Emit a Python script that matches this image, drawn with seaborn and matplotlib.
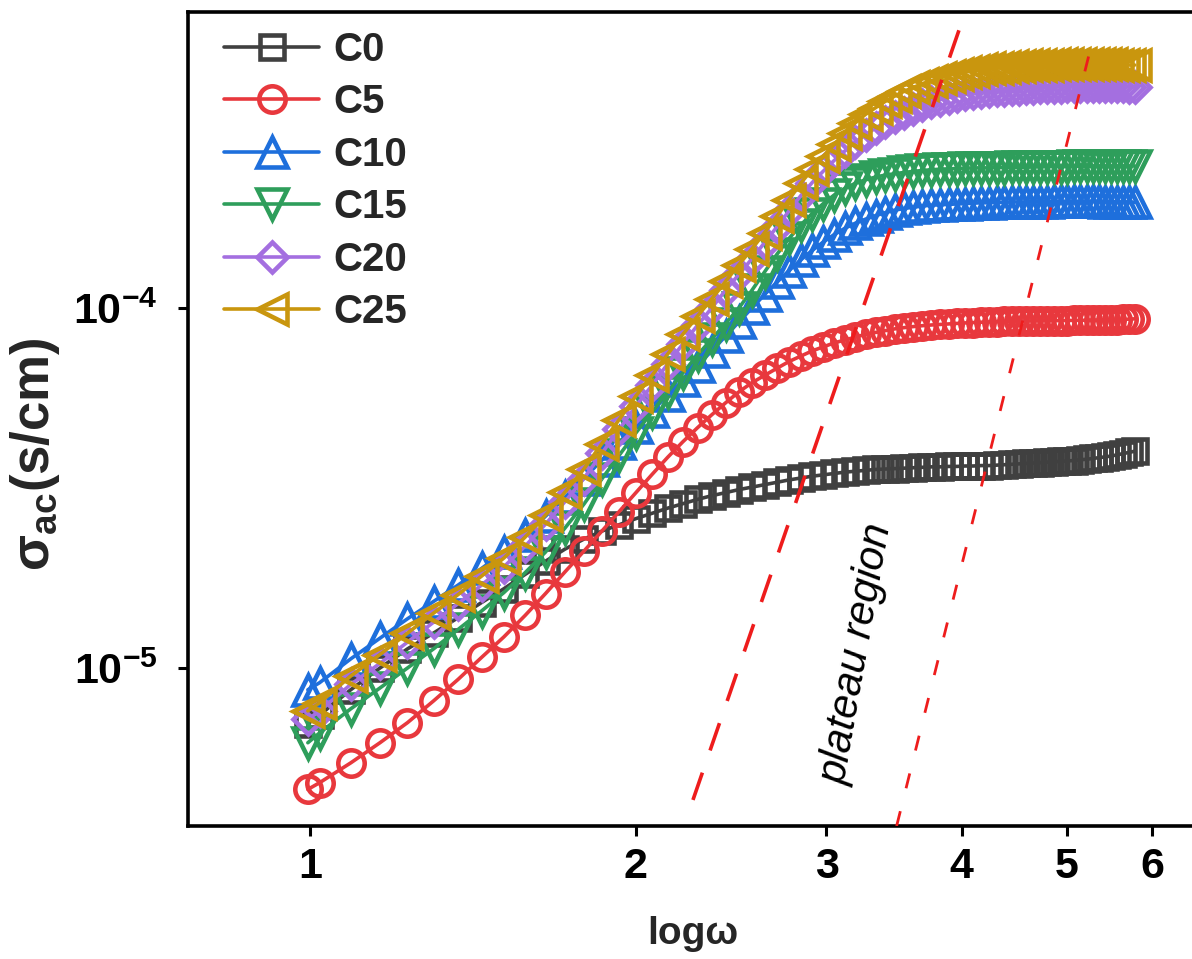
import numpy as np
import matplotlib
matplotlib.use("Agg")
import matplotlib.pyplot as plt
import seaborn as sns
from matplotlib.ticker import FixedLocator, FixedFormatter, NullLocator

# ---------------- data (sigma values in units of 1e-5 S/cm) ----------------
log_omega = [0.995, 1.02, 1.09, 1.16, 1.23, 1.30, 1.37, 1.44, 1.51, 1.58, 1.65, 1.72,
             1.79, 1.86, 1.93, 2.00, 2.07, 2.14, 2.21, 2.28, 2.35, 2.42, 2.49, 2.56,
             2.63, 2.70, 2.77, 2.84, 2.91, 2.98, 3.05, 3.12, 3.19, 3.26, 3.33, 3.40,
             3.47, 3.54, 3.61, 3.68, 3.75, 3.82, 3.89, 3.96, 4.03, 4.10, 4.17, 4.24,
             4.31, 4.38, 4.45, 4.52, 4.59, 4.66, 4.73, 4.80, 4.87, 4.94, 5.01, 5.08,
             5.15, 5.22, 5.29, 5.36, 5.43, 5.50, 5.57, 5.64, 5.71, 5.78]

C0 = [0.70, 0.74, 0.87, 1.00, 1.13, 1.25, 1.38, 1.52, 1.66, 1.82, 1.98, 2.14,
      2.28, 2.40, 2.50, 2.60, 2.69, 2.78, 2.86, 2.94, 3.01, 3.07, 3.13, 3.18,
      3.23, 3.28, 3.33, 3.37, 3.41, 3.44, 3.47, 3.50, 3.52, 3.54, 3.56, 3.57,
      3.58, 3.59, 3.60, 3.61, 3.62, 3.62, 3.63, 3.63, 3.64, 3.64, 3.65, 3.65,
      3.66, 3.67, 3.68, 3.69, 3.70, 3.71, 3.72, 3.73, 3.74, 3.75, 3.76, 3.77,
      3.79, 3.80, 3.82, 3.84, 3.86, 3.88, 3.91, 3.94, 3.97, 4.00]

C5 = [0.46, 0.48, 0.545, 0.62, 0.705, 0.81, 0.93, 1.07, 1.22, 1.40, 1.61, 1.85,
      2.11, 2.40, 2.72, 3.07, 3.45, 3.85, 4.25, 4.65, 5.05, 5.45, 5.85, 6.20,
      6.50, 6.80, 7.10, 7.35, 7.60, 7.80, 8.00, 8.15, 8.30, 8.45, 8.55, 8.65,
      8.75, 8.82, 8.88, 8.93, 8.97, 9.00, 9.03, 9.06, 9.09, 9.11, 9.13, 9.15,
      9.17, 9.18, 9.19, 9.20, 9.20, 9.21, 9.21, 9.22, 9.22, 9.23, 9.23, 9.24,
      9.24, 9.25, 9.25, 9.26, 9.27, 9.28, 9.29, 9.30, 9.31, 9.33]

C10 = [0.87, 0.91, 1.06, 1.21, 1.37, 1.53, 1.70, 1.89, 2.10, 2.34, 2.64, 2.98,
       3.36, 3.78, 4.22, 4.68, 5.18, 5.72, 6.30, 6.92, 7.60, 8.35, 9.15, 10.0,
       10.9, 11.8, 12.7, 13.6, 14.45, 15.25, 16.0, 16.65, 17.2, 17.65, 18.05, 18.4,
       18.7, 18.9, 19.05, 19.2, 19.3, 19.35, 19.4, 19.45, 19.5, 19.55, 19.6, 19.6,
       19.65, 19.65, 19.7, 19.7, 19.7, 19.75, 19.75, 19.75, 19.8, 19.8, 19.8, 19.8,
       19.8, 19.8, 19.8, 19.8, 19.75, 19.75, 19.7, 19.7, 19.7, 19.65]

C15 = [0.62, 0.66, 0.77, 0.88, 1.00, 1.13, 1.28, 1.44, 1.62, 1.84, 2.10, 2.45,
       2.85, 3.35, 3.90, 4.50, 5.15, 5.85, 6.60, 7.40, 8.20, 9.05, 10.0, 11.2,
       12.6, 14.1, 15.6, 17.0, 18.3, 19.5, 20.6, 21.5, 22.2, 22.7, 23.1, 23.4,
       23.6, 23.8, 23.95, 24.1, 24.2, 24.3, 24.35, 24.4, 24.45, 24.5, 24.5, 24.5,
       24.55, 24.55, 24.6, 24.6, 24.6, 24.65, 24.65, 24.7, 24.7, 24.7, 24.7, 24.75,
       24.75, 24.75, 24.8, 24.8, 24.8, 24.8, 24.8, 24.8, 24.8, 24.8]

C20 = [0.72, 0.76, 0.90, 1.03, 1.18, 1.34, 1.51, 1.70, 1.91, 2.18, 2.51, 2.90,
       3.36, 3.95, 4.60, 5.35, 6.10, 7.00, 7.95, 8.95, 10.0, 11.2, 12.4, 13.7,
       15.2, 16.8, 18.6, 20.5, 22.3, 24.0, 25.7, 27.3, 28.9, 30.3, 31.6, 32.8,
       33.9, 34.9, 35.8, 36.6, 37.3, 37.9, 38.4, 38.8, 39.2, 39.5, 39.8, 40.0,
       40.2, 40.4, 40.6, 40.7, 40.8, 40.9, 41.0, 41.1, 41.2, 41.2, 41.3, 41.3,
       41.3, 41.4, 41.4, 41.4, 41.4, 41.4, 41.3, 41.3, 41.2, 41.1]

C25 = [0.76, 0.80, 0.95, 1.09, 1.25, 1.42, 1.60, 1.80, 2.02, 2.31, 2.66, 3.08,
       3.57, 4.20, 4.90, 5.70, 6.50, 7.45, 8.45, 9.50, 10.6, 11.85, 13.2, 14.6,
       16.2, 18.0, 20.0, 22.2, 24.3, 26.4, 28.5, 30.6, 32.7, 34.5, 36.0, 37.5,
       38.8, 40.0, 41.0, 42.0, 42.8, 43.6, 44.2, 44.8, 45.2, 45.6, 46.0, 46.3,
       46.5, 46.7, 46.9, 47.0, 47.2, 47.3, 47.4, 47.4, 47.5, 47.5, 47.5, 47.5,
       47.5, 47.5, 47.5, 47.5, 47.5, 47.5, 47.4, 47.4, 47.3, 47.3]

series_names = ["C0", "C5", "C10", "C15", "C20", "C25"]
series_values = [C0, C5, C10, C15, C20, C25]
value_unit = 1e-5

# guide lines (data coordinates) and annotation
guide1_x = [2.258, 3.984]
guide1_y = [4.3e-6, 6.0e-4]
guide2_x = [3.483, 5.25]
guide2_y = [3.64e-6, 5.11e-4]
note_text = "plateau region"
note_pos = (3.2, 1.09e-5)

x_ticks = [1, 2, 3, 4, 5, 6]
x_tick_labels = ["1", "2", "3", "4", "5", "6"]
y_ticks = [1e-5, 1e-4]
y_tick_labels = [r"$\mathbf{10^{-5}}$", r"$\mathbf{10^{-4}}$"]

# ---------------- style ----------------
sns.set_theme(style="ticks")
plt.rcParams["font.family"] = ["Liberation Sans", "DejaVu Sans"]
plt.rcParams["mathtext.fontset"] = "custom"
plt.rcParams["mathtext.rm"] = "Liberation Sans:bold"
plt.rcParams["mathtext.bf"] = "Liberation Sans:bold"
plt.rcParams["mathtext.it"] = "Liberation Sans:bold:italic"
plt.rcParams["mathtext.default"] = "rm"

colors = ["#404040", "#e8383d", "#1e6fdc", "#2e9e5b", "#a46fe0", "#c9960e"]
markers = ["s", "o", "^", "v", "D", "<"]
msizes = [17, 19, 21, 21, 15, 21]

fig = plt.figure(figsize=(11.92, 9.59), dpi=100)
W, H = 1192, 959
ax = fig.add_axes([188 / W, (H - 826) / H, (1197 - 188) / W, (826 - 12) / H])

for name, vals, c, m, ms in zip(series_names, series_values, colors, markers, msizes):
    sns.lineplot(x=log_omega, y=np.array(vals) * value_unit, ax=ax, color=c,
                 marker=m, markersize=ms, markeredgecolor=c, markerfacecolor="none",
                 markeredgewidth=3.3, linewidth=2.6, label=name,
                 estimator=None, sort=False, legend=False)

ax.plot(guide1_x, guide1_y, color="#ee1c1c", linewidth=2.6,
        linestyle=(0, (8, 6.5)), zorder=10)
ax.plot(guide2_x, guide2_y, color="#ee1c1c", linewidth=2.0,
        linestyle=(0, (5.5, 8.5)), zorder=10)

ax.text(note_pos[0], note_pos[1], note_text, rotation=80, fontsize=30,
        style="italic", ha="center", va="center", rotation_mode="anchor",
        color="black")

ax.set_xscale("log")
ax.set_yscale("log")
ax.set_xlim(0.771, 6.6)
ax.set_ylim(3.64e-6, 6.64e-4)

ax.xaxis.set_major_locator(FixedLocator(x_ticks))
ax.xaxis.set_major_formatter(FixedFormatter(x_tick_labels))
ax.xaxis.set_minor_locator(NullLocator())
ax.yaxis.set_major_locator(FixedLocator(y_ticks))
ax.yaxis.set_major_formatter(FixedFormatter(y_tick_labels))
ax.yaxis.set_minor_locator(NullLocator())

ax.tick_params(axis="both", which="major", direction="out", length=7, width=2.2,
               labelsize=31, color="black", labelcolor="black")
ax.tick_params(axis="x", pad=8)
ax.tick_params(axis="y", pad=15)
for lab in ax.get_xticklabels():
    lab.set_fontweight("bold")

for side in ["left", "bottom", "top", "right"]:
    ax.spines[side].set_linewidth(2.6)
    ax.spines[side].set_color("black")
ax.grid(False)

ax.set_xlabel("logω", fontsize=28, fontweight="bold")
ax.set_ylabel("σ$_{ac}$(s/cm)", fontsize=38, fontweight="bold")
ax.xaxis.set_label_coords(0.5, -0.11)
ax.yaxis.set_label_coords(-0.125, 0.457)

leg = ax.legend(loc="upper left", bbox_to_anchor=(0.036, 0.977), frameon=False,
                prop={"weight": "bold", "size": 29}, handlelength=2.36,
                labelspacing=0.36, handletextpad=0.35, borderaxespad=0, borderpad=0)

fig.savefig("out.png", dpi=100, facecolor="white")
